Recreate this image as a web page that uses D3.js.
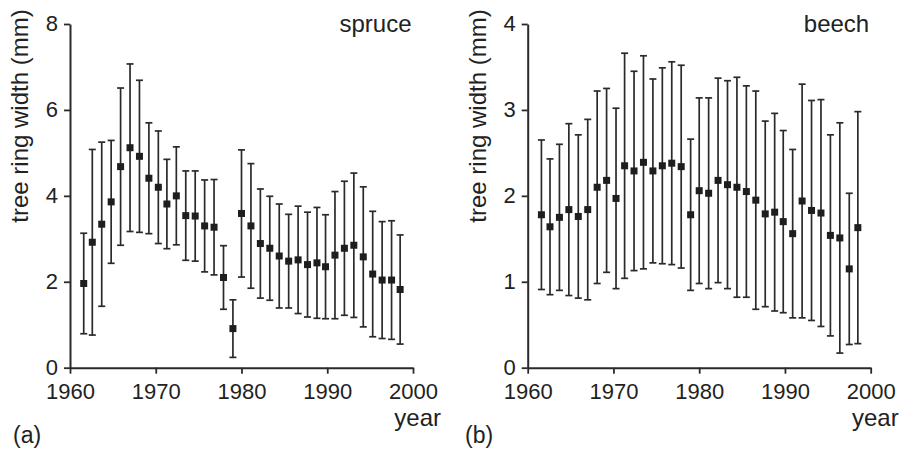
<!DOCTYPE html>
<html>
<head>
<meta charset="utf-8">
<script src="https://cdn.jsdelivr.net/npm/d3@7/dist/d3.min.js"></script>
<style>
  html, body { margin: 0; padding: 0; background: #fff; }
  svg { display: block; }
  text { font-family: "Liberation Sans", Arial, Helvetica, sans-serif; fill: #222; }
</style>
</head>
<body>
<svg id="chart" width="901" height="450"></svg>
<script>
// Sampling positions along the year axis (shared by both species)
const years = [1961.6, 1962.6, 1963.7, 1964.8, 1965.9, 1967.0, 1968.1, 1969.2, 1970.3, 1971.3,
               1972.4, 1973.5, 1974.6, 1975.7, 1976.8, 1977.9, 1979.0, 1980.0, 1981.1, 1982.2,
               1983.3, 1984.4, 1985.5, 1986.6, 1987.7, 1988.8, 1989.8, 1990.9, 1992.0, 1993.1,
               1994.2, 1995.3, 1996.4, 1997.5, 1998.5];

// Spruce: mean tree ring width (mm) and standard deviation
const spruceMean = [1.96, 2.92, 3.34, 3.86, 4.68, 5.12, 4.92, 4.41, 4.20, 3.81,
                    4.00, 3.54, 3.53, 3.30, 3.27, 2.10, 0.91, 3.59, 3.30, 2.89,
                    2.78, 2.60, 2.48, 2.51, 2.40, 2.44, 2.35, 2.62, 2.78, 2.85,
                    2.58, 2.18, 2.04, 2.04, 1.82];
const spruceSD   = [1.17, 2.16, 1.91, 1.43, 1.83, 1.95, 1.77, 1.29, 1.31, 1.04,
                    1.14, 1.04, 1.05, 1.07, 1.11, 0.74, 0.67, 1.48, 1.45, 1.27,
                    1.21, 1.21, 1.09, 1.25, 1.22, 1.29, 1.21, 1.48, 1.56, 1.68,
                    1.63, 1.46, 1.36, 1.38, 1.27];

// Beech: mean tree ring width (mm) and standard deviation
const beechMean = [1.78, 1.64, 1.75, 1.84, 1.76, 1.84, 2.10, 2.18, 1.97, 2.35,
                   2.29, 2.39, 2.29, 2.35, 2.38, 2.34, 1.78, 2.06, 2.03, 2.18,
                   2.13, 2.10, 2.05, 1.95, 1.79, 1.81, 1.70, 1.56, 1.94, 1.83,
                   1.80, 1.54, 1.51, 1.15, 1.63];
const beechSD   = [0.87, 0.79, 0.85, 1.00, 0.95, 1.05, 1.12, 1.07, 1.05, 1.31,
                   1.16, 1.24, 1.07, 1.14, 1.18, 1.18, 0.88, 1.08, 1.11, 1.19,
                   1.21, 1.28, 1.23, 1.27, 1.08, 1.15, 1.06, 0.98, 1.36, 1.28,
                   1.32, 1.17, 1.34, 0.88, 1.35];

const xTicks = [1960, 1970, 1980, 1990, 2000];
const spruceTicks = [0, 2, 4, 6, 8];
const beechTicks = [0, 1, 2, 3, 4];

const svg = d3.select("#chart");
const INK = "#2a2a2a";

function drawPanel(cfg) {
  const x = d3.scaleLinear().domain([1960, 2000]).range([cfg.left, cfg.left + 343]);
  const y = d3.scaleLinear().domain([0, cfg.yMax]).range([367.7, 24]);
  const g = svg.append("g");

  // axes
  const xAxis = d3.axisBottom(x).tickValues(xTicks).tickFormat(d3.format("d"))
    .tickSize(6).tickSizeOuter(0).tickPadding(10);
  const yAxis = d3.axisLeft(y).tickValues(cfg.yTicks).tickFormat(d3.format("d"))
    .tickSize(6).tickSizeOuter(0).tickPadding(6);

  const gx = g.append("g").attr("transform", `translate(0,${y(0)})`).call(xAxis);
  const gy = g.append("g").attr("transform", `translate(${x(1960)},0)`).call(yAxis);
  [gx, gy].forEach(a => {
    a.selectAll("path.domain").attr("stroke", INK).attr("stroke-width", 2);
    a.selectAll(".tick line").attr("stroke", INK).attr("stroke-width", 1.8);
    a.selectAll(".tick text").style("font-size", "22px")
      .style("font-family", '"Liberation Sans", Arial, sans-serif').attr("fill", "#222");
  });
  gy.selectAll(".tick text").attr("dy", "0.3em");

  // error bars (mean ± sd)
  const rows = years.map((yr, i) => ({ yr, m: cfg.mean[i], s: cfg.sd[i] }));
  const bars = g.append("g").attr("stroke", INK).attr("stroke-width", 1.7);
  bars.selectAll("line.stem").data(rows).join("line").attr("class", "stem")
    .attr("x1", d => x(d.yr)).attr("x2", d => x(d.yr))
    .attr("y1", d => y(d.m - d.s)).attr("y2", d => y(d.m + d.s));
  bars.selectAll("line.capHi").data(rows).join("line").attr("class", "capHi")
    .attr("x1", d => x(d.yr) - 3.5).attr("x2", d => x(d.yr) + 3.5)
    .attr("y1", d => y(d.m + d.s)).attr("y2", d => y(d.m + d.s));
  bars.selectAll("line.capLo").data(rows).join("line").attr("class", "capLo")
    .attr("x1", d => x(d.yr) - 3.5).attr("x2", d => x(d.yr) + 3.5)
    .attr("y1", d => y(d.m - d.s)).attr("y2", d => y(d.m - d.s));

  // mean markers
  g.append("g").selectAll("rect").data(rows).join("rect")
    .attr("x", d => x(d.yr) - 3.5).attr("y", d => y(d.m) - 3.5)
    .attr("width", 7).attr("height", 7).attr("fill", "#1e1e1e");

  // labels
  g.append("text").attr("x", x(2000) - 1.5).attr("y", 31.5)
    .attr("text-anchor", "end").style("font-size", "24px").text(cfg.species);
  g.append("text").attr("x", x(2000) + 28).attr("y", 426)
    .attr("text-anchor", "end").style("font-size", "24px").text("year");
  g.append("text")
    .attr("transform", `translate(${x(1960) - 50},116) rotate(-90)`)
    .attr("text-anchor", "middle").attr("dy", "0.35em")
    .style("font-size", "24px").text("tree ring width (mm)");
  g.append("text").attr("x", cfg.tagX).attr("y", 443)
    .style("font-size", "23px").text(cfg.tag);
}

drawPanel({ left: 70, yMax: 8, yTicks: spruceTicks, mean: spruceMean, sd: spruceSD,
            species: "spruce", tag: "(a)", tagX: 13 });
drawPanel({ left: 527.7, yMax: 4, yTicks: beechTicks, mean: beechMean, sd: beechSD,
            species: "beech", tag: "(b)", tagX: 465 });
</script>
</body>
</html>
